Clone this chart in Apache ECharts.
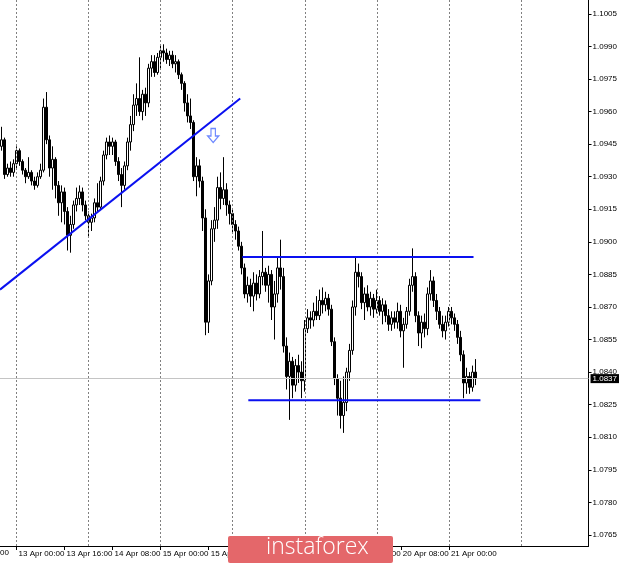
<!DOCTYPE html>
<html>
<head>
<meta charset="utf-8">
<script src="https://cdn.jsdelivr.net/npm/echarts@6/dist/echarts.min.js"></script>
<style>
html,body{margin:0;padding:0;background:#fff;}
#c{width:620px;height:563px;}
</style>
</head>
<body>
<div id="c"></div>
<script>
// ---- DATA (EURUSD H1) ----
const opens = [
1.0944,1.0947,1.0931,1.0934,1.0932,1.0936,1.0942,1.0937,1.0933,1.0930,
1.0932,1.0928,1.0926,1.0930,1.0933,1.0962,1.0947,1.0934,1.0938,1.0926,
1.0918,1.0923,1.0914,1.0903,1.0908,1.0917,1.0920,1.0923,1.0917,1.0912,
1.0909,1.0911,1.0918,1.0916,1.0928,1.0940,1.0946,1.0944,1.0946,1.0937,
1.0931,1.0926,1.0935,1.0946,1.0954,1.0963,1.0966,1.0960,1.0968,1.0964,
1.0980,1.0983,1.0978,1.0985,1.0988,1.0987,1.0984,1.0986,1.0982,1.0983,
1.0977,1.0973,1.0964,1.0958,1.0955,1.0930,1.0935,1.0928,1.0911,1.0863,
1.0882,1.0906,1.0910,1.0925,1.0920,1.0924,1.0917,1.0913,1.0908,1.0905,
1.0898,1.0888,1.0876,1.0880,1.0875,1.0881,1.0876,1.0884,1.0886,1.0880,
1.0885,1.0870,1.0876,1.0888,1.0884,1.0852,1.0838,1.0845,1.0834,1.0843,
1.0840,1.0836,1.0860,1.0865,1.0864,1.0868,1.0866,1.0873,1.0871,1.0874,
1.0869,1.0854,1.0837,1.0828,1.0820,1.0826,1.0840,1.0850,1.0870,1.0886,
1.0884,1.0872,1.0876,1.0870,1.0874,1.0869,1.0873,1.0868,1.0871,1.0866,
1.0862,1.0865,1.0863,1.0868,1.0859,1.0862,1.0868,1.0880,1.0884,1.0866,
1.0858,1.0863,1.0860,1.0876,1.0882,1.0873,1.0868,1.0862,1.0859,1.0863,
1.0868,1.0865,1.0862,1.0856,1.0848,1.0835,1.0838,1.0833,1.0840
];
const closes = [
1.0947,1.0931,1.0934,1.0932,1.0936,1.0942,1.0937,1.0933,1.0930,1.0932,
1.0928,1.0926,1.0930,1.0933,1.0962,1.0947,1.0934,1.0938,1.0926,1.0918,
1.0923,1.0914,1.0903,1.0908,1.0917,1.0920,1.0923,1.0917,1.0912,1.0909,
1.0911,1.0918,1.0916,1.0928,1.0940,1.0946,1.0944,1.0946,1.0937,1.0931,
1.0926,1.0935,1.0946,1.0954,1.0963,1.0966,1.0960,1.0968,1.0964,1.0980,
1.0983,1.0978,1.0985,1.0988,1.0987,1.0984,1.0986,1.0982,1.0983,1.0977,
1.0973,1.0964,1.0958,1.0955,1.0930,1.0935,1.0928,1.0911,1.0863,1.0882,
1.0906,1.0910,1.0925,1.0920,1.0924,1.0917,1.0913,1.0908,1.0905,1.0898,
1.0888,1.0876,1.0880,1.0875,1.0881,1.0876,1.0884,1.0886,1.0880,1.0885,
1.0870,1.0876,1.0888,1.0884,1.0852,1.0838,1.0845,1.0834,1.0843,1.0840,
1.0836,1.0860,1.0865,1.0864,1.0868,1.0866,1.0873,1.0871,1.0874,1.0869,
1.0854,1.0837,1.0828,1.0820,1.0826,1.0840,1.0850,1.0870,1.0886,1.0884,
1.0872,1.0876,1.0870,1.0874,1.0869,1.0873,1.0868,1.0871,1.0866,1.0862,
1.0865,1.0863,1.0868,1.0859,1.0862,1.0868,1.0880,1.0884,1.0866,1.0858,
1.0863,1.0860,1.0876,1.0882,1.0873,1.0868,1.0862,1.0859,1.0863,1.0868,
1.0865,1.0862,1.0856,1.0848,1.0835,1.0838,1.0833,1.0840,1.0837
];
const lows = [
1.0942,1.0929,1.0930,1.0930,1.0930,1.0934,1.0935,1.0931,1.0927,1.0929,
1.0926,1.0924,1.0925,1.0929,1.0932,1.0945,1.0930,1.0924,1.0920,1.0912,
1.0909,1.0908,1.0896,1.0895,1.0906,1.0914,1.0917,1.0914,1.0910,1.0902,
1.0905,1.0909,1.0914,1.0915,1.0926,1.0938,1.0940,1.0940,1.0935,1.0928,
1.0916,1.0924,1.0933,1.0942,1.0951,1.0958,1.0958,1.0956,1.0958,1.0962,
1.0976,1.0976,1.0977,1.0980,1.0983,1.0982,1.0981,1.0980,1.0978,1.0975,
1.0970,1.0960,1.0955,1.0952,1.0928,1.0921,1.0925,1.0905,1.0857,1.0858,
1.0880,1.0900,1.0906,1.0915,1.0917,1.0912,1.0908,1.0904,1.0901,1.0896,
1.0885,1.0874,1.0872,1.0870,1.0868,1.0873,1.0874,1.0880,1.0877,1.0872,
1.0864,1.0855,1.0872,1.0878,1.0849,1.0832,1.0818,1.0828,1.0831,1.0835,
1.0828,1.0831,1.0858,1.0860,1.0861,1.0864,1.0864,1.0867,1.0868,1.0866,
1.0852,1.0834,1.0820,1.0814,1.0812,1.0822,1.0836,1.0848,1.0866,1.0879,
1.0869,1.0864,1.0868,1.0866,1.0865,1.0867,1.0866,1.0862,1.0863,1.0859,
1.0859,1.0860,1.0860,1.0856,1.0842,1.0860,1.0866,1.0877,1.0863,1.0852,
1.0851,1.0856,1.0857,1.0873,1.0870,1.0864,1.0860,1.0856,1.0855,1.0861,
1.0862,1.0859,1.0853,1.0845,1.0828,1.0830,1.0830,1.0831,1.0834
];
const highs = [
1.0953,1.0948,1.0936,1.0937,1.0938,1.0944,1.0943,1.0938,1.0934,1.0939,
1.0933,1.0930,1.0932,1.0936,1.0966,1.0969,1.0949,1.0944,1.0939,1.0928,
1.0926,1.0925,1.0916,1.0912,1.0919,1.0925,1.0926,1.0925,1.0919,1.0914,
1.0913,1.0920,1.0927,1.0930,1.0942,1.0948,1.0949,1.0948,1.0947,1.0939,
1.0934,1.0937,1.0948,1.0958,1.0968,1.0973,1.0985,1.0970,1.0971,1.0982,
1.0986,1.0986,1.0987,1.0991,1.0991,1.0989,1.0988,1.0988,1.0986,1.0984,
1.0978,1.0974,1.0968,1.0966,1.0956,1.0939,1.0938,1.0930,1.0915,1.0885,
1.0910,1.0916,1.0930,1.0932,1.0939,1.0927,1.0919,1.0915,1.0910,1.0907,
1.0900,1.0890,1.0884,1.0883,1.0886,1.0885,1.0887,1.0905,1.0888,1.0889,
1.0887,1.0882,1.0893,1.0901,1.0888,1.0856,1.0849,1.0847,1.0846,1.0848,
1.0845,1.0864,1.0869,1.0868,1.0872,1.0875,1.0878,1.0879,1.0877,1.0876,
1.0871,1.0856,1.0839,1.0836,1.0838,1.0842,1.0853,1.0873,1.0893,1.0890,
1.0886,1.0879,1.0880,1.0877,1.0876,1.0878,1.0875,1.0874,1.0873,1.0869,
1.0868,1.0868,1.0872,1.0871,1.0865,1.0870,1.0883,1.0897,1.0886,1.0868,
1.0866,1.0867,1.0879,1.0887,1.0884,1.0876,1.0870,1.0866,1.0866,1.0870,
1.0870,1.0867,1.0864,1.0859,1.0850,1.0842,1.0840,1.0843,1.0846
];
// x tick labels: [bar index, text]
const xTickLabels = [
[5,'13 Apr 00:00'],[21,'13 Apr 16:00'],[37,'14 Apr 08:00'],[53,'15 Apr 00:00'],
[69,'15 Apr 16:00'],[85,'16 Apr 08:00'],[101,'17 Apr 00:00'],[117,'17 Apr 16:00'],
[133,'20 Apr 08:00'],[149,'21 Apr 00:00']
];
const dayGridIdx = [5,29,53,77,101,125,149,173];
const yTickValues = [1.0765,1.0780,1.0795,1.0810,1.0825,1.0840,1.0855,1.0870,1.0885,
  1.0900,1.0915,1.0930,1.0945,1.0960,1.0975,1.0990,1.1005];
const slotCount = 196;
const lastPrice = 1.0837;
const trendLine = [[-0.5,1.0878],[79.5,1.0966]];
const resistance = [[80.2,1.0893],[157.2,1.0893]];
const support = [[82.2,1.0827],[159.5,1.0827]];
const arrowPoint = [[70.5,1.0949]];

// ---- build ----
const categories = Array.from({length: slotCount}, (_, i) => String(i));
const ohlc = opens.map((o, i) => [o, closes[i], lows[i], highs[i]]);
const labelMap = new Map(xTickLabels);

const chart = echarts.init(document.getElementById('c'), null, {renderer: 'canvas'});
const BLUE = '#0a10f0';
const fontFam = 'Liberation Sans, Arial, sans-serif';

chart.setOption({
  animation: false,
  backgroundColor: '#ffffff',
  grid: {left: 0, right: 31, top: 0, bottom: 17, containLabel: false},
  xAxis: [{
    type: 'category',
    data: categories,
    boundaryGap: true,
    axisLine: {show: true, onZero: false, lineStyle: {color: '#000', width: 1}},
    axisTick: {show: true, alignWithLabel: true, length: 4,
      interval: (idx) => labelMap.has(idx), lineStyle: {color: '#000'}},
    axisLabel: {show: true, interval: (idx) => labelMap.has(idx),
      formatter: (v, idx) => labelMap.get(Number(v)) || '',
      align: 'left', margin: 4, padding: [0,0,0,2],
      fontSize: 8, color: '#000', fontFamily: fontFam},
    splitLine: {show: false}
  }, {
    type: 'value', min: -0.5, max: slotCount - 0.5, show: false,
    axisLine: {onZero: false}
  }],
  yAxis: [{
    type: 'value', position: 'right',
    min: 1.07599, max: 1.10114, scale: true,
    axisLine: {show: true, onZero: false, lineStyle: {color: '#000', width: 1}},
    axisTick: {show: true, length: 3, customValues: yTickValues, lineStyle: {color: '#000'}},
    axisLabel: {show: true, customValues: yTickValues, margin: 4,
      formatter: (v) => v.toFixed(4), fontSize: 8, color: '#000', fontFamily: fontFam},
    splitLine: {show: false}
  }],
  graphic: [
    {type: 'text', right: 611, top: 549, z: 10,
      style: {text: '10 Apr 16:00', fontSize: 8, fill: '#000', fontFamily: fontFam, textAlign: 'right'}},
    {type: 'rect', left: 228, top: 536, z: 200, zlevel: 1,
      shape: {x: 0, y: 0, width: 165, height: 27, r: 2},
      style: {fill: '#e4676a'}},
    {type: 'text', left: 266, top: 536, z: 201, zlevel: 1,
      style: {text: 'instaforex', fill: '#ffffff', fontSize: 23,
        fontFamily: 'Open Sans, Lato, sans-serif', fontWeight: 300}}
  ],
  series: [
    {
      name: 'guides', type: 'line', xAxisIndex: 1, yAxisIndex: 0, data: [], z: 1, silent: true,
      markLine: {silent: true, symbol: 'none', animation: false,
        label: {show: false},
        lineStyle: {color: '#808080', type: [2, 2], width: 1},
        data: dayGridIdx.map(v => ({xAxis: v}))}
    },
    {
      name: 'price', type: 'line', xAxisIndex: 1, yAxisIndex: 0, data: [], z: 2, silent: true,
      markLine: {silent: true, symbol: 'none', animation: false, precision: 4,
        lineStyle: {color: '#c4c4c4', type: 'solid', width: 1},
        label: {show: true, position: 'end', distance: 2, formatter: () => lastPrice.toFixed(4),
          backgroundColor: '#000', color: '#fff', fontSize: 8, padding: [1, 2, 0, 2], fontFamily: fontFam},
        data: [{yAxis: lastPrice}]}
    },
    {
      name: 'EURUSD', type: 'candlestick', xAxisIndex: 0, yAxisIndex: 0, z: 3,
      data: ohlc, barWidth: 2.6,
      itemStyle: {color: '#ffffff', color0: '#000000', borderColor: '#000000', borderColor0: '#000000', borderWidth: 1}
    },
    {name: 'trend', type: 'line', xAxisIndex: 1, yAxisIndex: 0, z: 5, data: trendLine,
      symbol: 'none', lineStyle: {color: BLUE, width: 2}},
    {name: 'resistance', type: 'line', xAxisIndex: 1, yAxisIndex: 0, z: 5, data: resistance,
      symbol: 'none', lineStyle: {color: BLUE, width: 2}},
    {name: 'support', type: 'line', xAxisIndex: 1, yAxisIndex: 0, z: 5, data: support,
      symbol: 'none', lineStyle: {color: BLUE, width: 2}},
    {name: 'arrow', type: 'scatter', xAxisIndex: 1, yAxisIndex: 0, z: 6, data: arrowPoint,
      symbol: 'path://M3,0 L7,0 L7,7 L10,7 L5,13 L0,7 L3,7 Z', symbolSize: [11, 14],
      itemStyle: {color: '#ffffff', borderColor: '#4a6cff', borderWidth: 1.3}}
  ]
});
</script>
</body>
</html>
